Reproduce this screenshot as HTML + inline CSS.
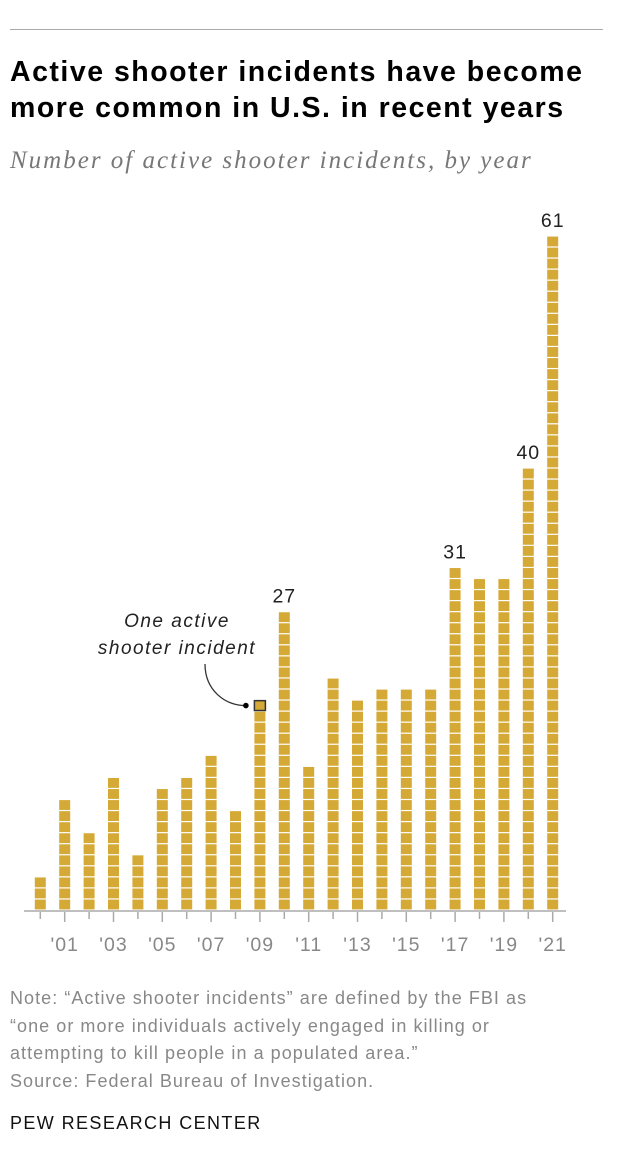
<!DOCTYPE html>
<html><head><meta charset="utf-8"><style>
body{margin:0;background:#fff;width:632px;height:1152px;overflow:hidden;font-family:"Liberation Sans",sans-serif;position:relative}
.abs{position:absolute}
</style></head><body>
<div class="abs" style="left:10px;top:29px;width:593px;height:1px;background:#aaa"></div>
<div class="abs" style="left:10px;top:54px;font-size:28.5px;font-weight:bold;line-height:36px;color:#000;letter-spacing:1.5px;white-space:nowrap">Active shooter incidents have become<br>more common in U.S. in recent years</div>
<div class="abs" style="left:10px;top:147px;font-family:'Liberation Serif',serif;font-style:italic;font-size:25px;color:#777;letter-spacing:2px;white-space:nowrap">Number of active shooter incidents, by year</div>
<svg class="abs" style="left:0;top:0" width="632" height="1152" id="chart"></svg>
<div class="abs" style="left:10px;top:985px;font-size:18px;line-height:27.5px;color:#888;letter-spacing:1.05px;white-space:nowrap">Note: “Active shooter incidents” are defined by the FBI as<br>“one or more individuals actively engaged in killing or<br>attempting to kill people in a populated area.”<br>Source: Federal Bureau of Investigation.</div>
<div class="abs" style="left:10px;top:1113px;font-size:18px;color:#111;letter-spacing:1.4px">PEW RESEARCH CENTER</div>
<script>
const years=[2000,2001,2002,2003,2004,2005,2006,2007,2008,2009,2010,2011,2012,2013,2014,2015,2016,2017,2018,2019,2020,2021];
const counts=[3,10,7,12,5,11,12,14,9,19,27,13,21,19,20,20,20,31,30,30,40,61];
const labeledValues=[2010,2017,2020,2021];
const tickLabels=["'01","'03","'05","'07","'09","'11","'13","'15","'17","'19","'21"];
const NS="http://www.w3.org/2000/svg";
const svg=document.getElementById('chart');
const x0=40.3,step=24.4,base=910,unit=11.05,bw=11;
const xs=i=>x0+i*step;
const ys=v=>base-v*unit;
function mk(t,a){const e=document.createElementNS(NS,t);for(const k in a)e.setAttribute(k,a[k]);svg.appendChild(e);return e;}
const ax=mk('line',{x1:24,x2:566,y1:base+1,y2:base+1,stroke:'#aaa','stroke-width':1.5});


years.forEach((y,i)=>{
  const cx=xs(i);
  const lab=(y%2===1);
  const tk=mk('line',{x1:cx,x2:cx,y1:base+2,y2:base+(lab?12:9),stroke:'#aaa','stroke-width':1.5});
  
  
  for(let c=0;c<counts[i];c++){
    const r=mk('rect',{x:cx-bw/2,y:ys(c+1)+0.6,width:bw,height:unit-1.2,fill:'#D4A935'});
    
    
  }
  if(labeledValues.includes(y)){
    const t=mk('text',{x:cx,y:ys(counts[i])-9,'text-anchor':'middle','font-size':19.5,fill:'#222','letter-spacing':1});
    t.textContent=counts[i];
    
    
  }
});
let li=0;
years.forEach((y,i)=>{
  if(y%2===1){
    const t=mk('text',{x:xs(i),y:951,'text-anchor':'middle','font-size':19.5,fill:'#888','letter-spacing':1});
    t.textContent=tickLabels[li++];
    
    
  }
});
const hi=years.indexOf(2009);
const hx=xs(hi),hy=ys(counts[hi]);
const hr=mk('rect',{x:hx-bw/2,y:hy+0.6,width:bw,height:unit-1.2,fill:'#D4A935',stroke:'#333','stroke-width':1.5});


const cp=mk('path',{d:`M205,664 C205,690 225,706 ${hx-14},${hy+5.5}`,fill:'none',stroke:'#333','stroke-width':1.3});


const dot=mk('circle',{cx:hx-14,cy:hy+5.5,r:2.8,fill:'#000'});


["One active","shooter incident"].forEach((s,k)=>{
  const t=mk('text',{x:177,y:627+k*27,'text-anchor':'middle','font-size':19,'font-style':'italic',fill:'#222','letter-spacing':1.5});
  t.textContent=s;
  
  
});
</script>
</body></html>
